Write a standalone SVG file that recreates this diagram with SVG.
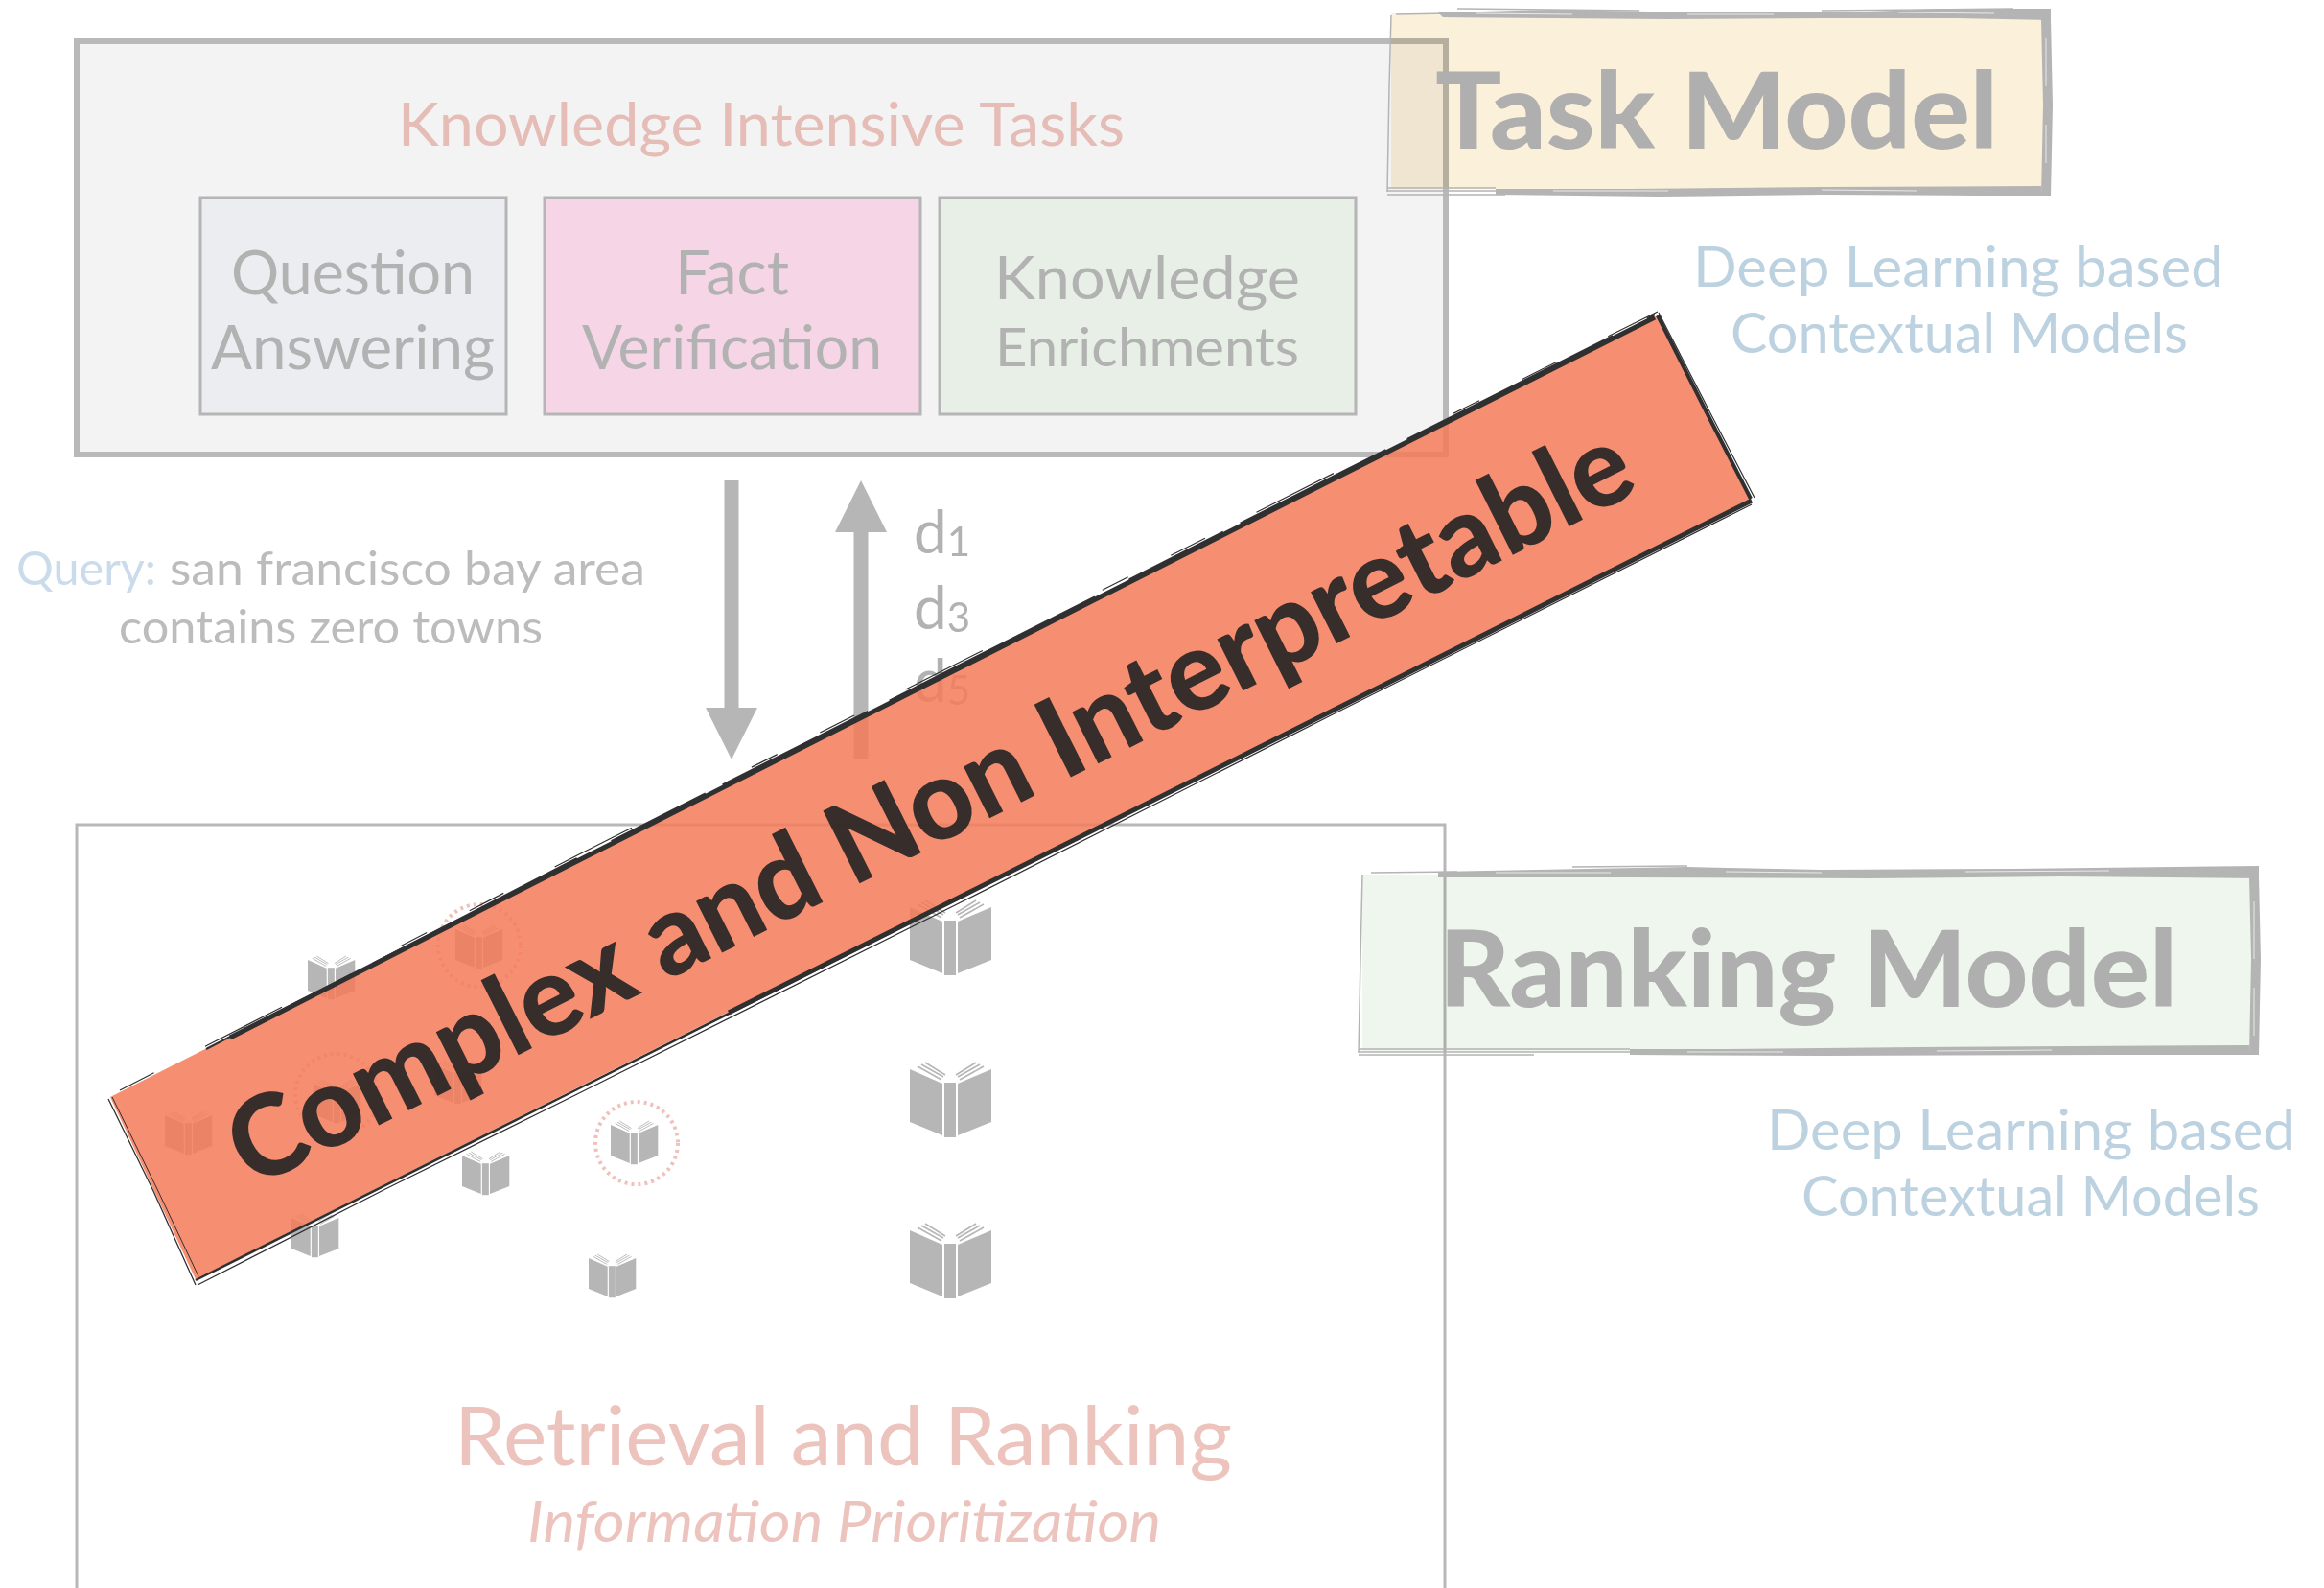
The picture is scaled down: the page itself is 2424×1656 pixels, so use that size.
<svg xmlns="http://www.w3.org/2000/svg" xmlns:xlink="http://www.w3.org/1999/xlink" width="2424" height="1656" viewBox="0 0 2424 1656">
<style>
text{font-family:"Lato","Liberation Sans",sans-serif;font-weight:400;text-anchor:start}
.g{fill:#b2b2b2}.p{fill:#e5bcb6}.r{fill:#ecc3bd}.bl{fill:#bdd2e0}
.box{stroke:#b5b5b5;stroke-width:3}
.big{font-weight:900;fill:#afafaf;font-size:110px}
.rough{fill:#b4b4b4}
.thin{fill:none;stroke:#b4b4b4;stroke-width:1.5}
.wh{fill:none;stroke:#fff;stroke-width:1;stroke-opacity:.7}
.dk{fill:none;stroke:#303030}
.dot{fill:none;stroke:#f0c0ba;stroke-width:4;stroke-dasharray:3 4}
</style>
<defs>
<g id="book" fill="#b6b6b6">
<path d="M0 7L34 22V76L0 62Z"/><path d="M36 21H48V78H36Z"/><path d="M50 22L85 7V62L50 76Z"/>
<path d="M8 4L33 18M12 2L35 15M16 0L37 13M77 4L52 18M73 2L50 15M69 0L48 13" fill="none" stroke="#b6b6b6" stroke-width="1.6"/>
</g>
<marker id="head" markerUnits="userSpaceOnUse" markerWidth="54" markerHeight="54" refX="0" refY="27" orient="auto"><path d="M0 0L54 27L0 54Z" fill="#b6b6b6"/></marker>
</defs>
<rect width="2424" height="1656" fill="#fff"/>
<g id="tasks-panel">
<rect x="80" y="43" width="1428" height="431" fill="#f3f3f3" stroke="#b9b9b9" stroke-width="6"/>
<text x="415" y="152" font-size="62" class="p" textLength="758" lengthAdjust="spacingAndGlyphs">Knowledge Intensive Tasks</text>
</g>
<g id="question-answering">
<rect x="209" y="206" width="319" height="226" fill="#ecedf1" class="box"/>
<text x="241" y="307" font-size="63" class="g" textLength="254" lengthAdjust="spacingAndGlyphs">Question</text>
<text x="220" y="385" font-size="63" class="g" textLength="296" lengthAdjust="spacingAndGlyphs">Answering</text>
</g>
<g id="fact-verification">
<rect x="568" y="206" width="392" height="226" fill="#f5d5e6" class="box"/>
<text x="704" y="307" font-size="63" class="g" textLength="119" lengthAdjust="spacingAndGlyphs">Fact</text>
<text x="607" y="385" font-size="63" class="g" textLength="313" lengthAdjust="spacingAndGlyphs">Verification</text>
</g>
<g id="knowledge-enrichments">
<rect x="980" y="206" width="434" height="226" fill="#e7efe7" class="box"/>
<text x="1037" y="312" font-size="62" class="g" textLength="319" lengthAdjust="spacingAndGlyphs">Knowledge</text>
<text x="1038" y="382" font-size="57" class="g" textLength="317" lengthAdjust="spacingAndGlyphs">Enrichments</text>
</g>
<g id="task-model">
<path d="M1451 14H2131V197H1451Z" fill="#fbf1db" style="mix-blend-mode:multiply"/>
<path class="rough" d="M1500 13L1620 10L1720 12L1920 13L2030 9L2139 9V21L2040 19L1900 19L1740 20L1620 19L1505 18Z"/>
<path class="thin" d="M1456 15L1510 14M1520 9L1710 11M1900 11L2100 9"/>
<path class="rough" d="M2129 20H2139L2141 110L2139 204H2129L2131 110Z"/>
<path class="rough" d="M1560 197L1700 197L1900 195L2129 194V204H2060L1900 203L1730 205L1560 203Z"/>
<path class="thin" d="M1447 196H1560M1447 199H1620M1447 203H1570"/>
<path class="wh" d="M1540 14L1640 15M1760 15L1850 15M1980 13L2080 14M1620 199L1740 199M1900 198L2000 199M2134 40V90M2134 130V170"/>
<path class="thin" d="M1451 16L1449 90L1447 200"/>
<text x="1497" y="155" class="big" textLength="587" lengthAdjust="spacingAndGlyphs">Task Model</text>
</g>
<g id="task-caption">
<text x="1766" y="299" font-size="58" class="bl" textLength="553" lengthAdjust="spacingAndGlyphs">Deep Learning based</text>
<text x="1805" y="368" font-size="58" class="bl" textLength="477" lengthAdjust="spacingAndGlyphs">Contextual Models</text>
</g>
<g id="query">
<text x="17" y="610" font-size="48" fill="#cadcec" textLength="146" lengthAdjust="spacingAndGlyphs">Query:</text>
<text x="177" y="610" font-size="48" fill="#bcbcbc" textLength="496" lengthAdjust="spacingAndGlyphs">san francisco bay area</text>
<text x="124" y="671" font-size="48" fill="#bcbcbc" textLength="442" lengthAdjust="spacingAndGlyphs">contains zero towns</text>
</g>
<g id="connectors">
<line x1="763" y1="501" x2="763" y2="738" stroke="#b6b6b6" stroke-width="15" marker-end="url(#head)"/>
<line x1="898" y1="792" x2="898" y2="555" stroke="#b6b6b6" stroke-width="15" marker-end="url(#head)"/>
</g>
<g id="results">
<text x="953" y="577" font-size="62" class="g">d<tspan font-size="42" dy="3">1</tspan></text>
<text x="953" y="656" font-size="62" class="g">d<tspan font-size="42" dy="3">3</tspan></text>
<text x="953" y="732" font-size="62" class="g">d<tspan font-size="42" dy="3">5</tspan></text>
</g>
<g id="retrieval-panel">
<path d="M80 1656V860H1507V1656" fill="none" stroke="#b8b8b8" stroke-width="3"/>
<text x="474" y="1528" font-size="86" class="r" textLength="811" lengthAdjust="spacingAndGlyphs">Retrieval and Ranking</text>
<text x="550" y="1608" font-size="60" class="r" font-style="italic" textLength="661" lengthAdjust="spacingAndGlyphs">Information Prioritization</text>
</g>
<g id="documents">
<use xlink:href="#book" href="#book" x="949" y="939"/>
<use xlink:href="#book" href="#book" x="949" y="1108"/>
<use xlink:href="#book" href="#book" x="949" y="1276"/>
<use href="#book" transform="translate(321 997) scale(.58)"/>
<use href="#book" transform="translate(475 965) scale(.58)"/>
<use href="#book" transform="translate(172 1159) scale(.58)"/>
<use href="#book" transform="translate(327 1126) scale(.58)"/>
<use href="#book" transform="translate(453 1106) scale(.58)"/>
<use href="#book" transform="translate(637 1169) scale(.58)"/>
<use href="#book" transform="translate(482 1201) scale(.58)"/>
<use href="#book" transform="translate(304 1266) scale(.58)"/>
<use href="#book" transform="translate(614 1308) scale(.58)"/>
<circle class="dot" cx="500" cy="986" r="43"/>
<circle class="dot" cx="351" cy="1142" r="43"/>
<circle class="dot" cx="664" cy="1192" r="43"/>
</g>
<g id="ranking-model">
<path d="M1421 912H2351V1096H1421Z" fill="#eff6ee" style="mix-blend-mode:multiply"/>
<path class="rough" d="M1500 909L1760 904L1900 907L2100 906L2356 903V916L2150 914L1950 916L1700 915L1500 915Z"/>
<path class="thin" d="M1430 910L1520 909M1640 904L1760 903"/>
<path class="rough" d="M2346 914H2356L2358 1000L2356 1100H2346L2348 1000Z"/>
<path class="rough" d="M1700 1094L1800 1094L2000 1092L2346 1090V1100H2200L1900 1101L1700 1100Z"/>
<path class="thin" d="M1417 1094H1700M1417 1097H1760M1417 1100H1600"/>
<path class="wh" d="M1560 910L1680 910M1800 909L1900 910M2050 909L2200 908M1760 1097L1860 1097M2020 1096L2140 1095M2351 940V1000M2351 1030V1080"/>
<path class="thin" d="M1421 912L1419 1000L1417 1098"/>
<text x="1501" y="1050" class="big" textLength="770" lengthAdjust="spacingAndGlyphs">Ranking Model</text>
</g>
<g id="ranking-caption">
<text x="1843" y="1199" font-size="58" class="bl" textLength="551" lengthAdjust="spacingAndGlyphs">Deep Learning based</text>
<text x="1879" y="1268" font-size="58" class="bl" textLength="478" lengthAdjust="spacingAndGlyphs">Contextual Models</text>
</g>
<g id="banner">
<path d="M115 1144L1729 329L1827 520L204 1334Z" fill="#f47a59" fill-opacity=".85"/>
<path class="dk" stroke-width="5" d="M240 1082L600 899L1000 697L1400 495L1726 331"/>
<path class="dk" stroke-width="2" stroke-dasharray="170 25 240 40 110 20" d="M215 1094L600 896L1000 694L1400 492L1726 328"/>
<path class="dk" stroke-width="1.2" stroke-dasharray="40 60 90 140 30 50" d="M125 1137L600 893L1000 691L1400 489L1729 325"/>
<path class="dk" stroke-width="4" d="M1729 329L1780 430L1826 520"/>
<path class="dk" stroke-width="1.2" d="M1730 326L1783 429L1830 519"/>
<path class="dk" stroke-width="5" d="M1827 522L1400 736L1000 936L760 1056"/>
<path class="dk" stroke-width="2.5" d="M1000 937L600 1137L204 1335"/>
<path class="dk" stroke-width="1.3" d="M1827 526L1400 740L1000 942L600 1142L400 1241L206 1340"/>
<path class="dk" stroke-width="1.3" d="M113 1146L160 1242L204 1340"/>
<path class="dk" stroke-width="1" d="M117 1144L164 1240L207 1331"/>
<text x="263" y="1240" font-size="117" fill="#222" fill-opacity=".9" style="font-weight:900" transform="rotate(-26.7 263 1240)" textLength="1622" lengthAdjust="spacingAndGlyphs">Complex and Non Interpretable</text>
</g>
</svg>
